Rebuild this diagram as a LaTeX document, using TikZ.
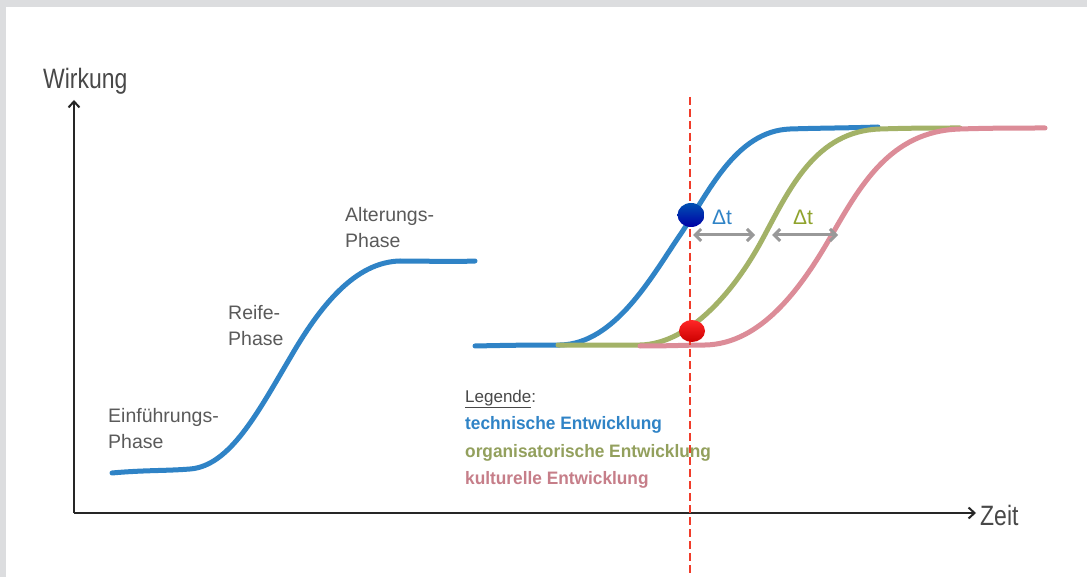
\documentclass[tikz,border=0pt]{standalone}
\usepackage{fontspec}
\setmainfont{Liberation Sans}
\newfontfamily\narrowfont[FakeStretch=0.82]{Liberation Sans}
\newfontfamily\legendfont[FakeStretch=0.96]{Liberation Sans}
\usetikzlibrary{arrows.meta}

\definecolor{frame}{HTML}{DCDDDF}
\definecolor{techblue}{HTML}{2F83C6}
\definecolor{orggreen}{HTML}{A3B267}
\definecolor{kultpink}{HTML}{DC8C98}
\definecolor{txtgray}{HTML}{5A5A5A}
\definecolor{dtgreen}{HTML}{8FA32C}
\definecolor{nowred}{HTML}{F03C2A}

\tikzset{
  axis/.style={line width=2pt, black!85, -{Straight Barb[length=6pt,width=11pt]}},
  curve/.style={line width=5pt, line cap=round},
  phase/.style={anchor=base west, inner sep=0pt, txtgray, font=\fontsize{19.5}{26}\selectfont, align=left},
  legend/.style={anchor=base west, inner sep=0pt, font=\legendfont\fontsize{18}{20}\selectfont\bfseries},
  delta/.style={line width=3pt, black!40, {Straight Barb[length=6pt,width=12pt]}-{Straight Barb[length=6pt,width=12pt]}}
}

\begin{document}
\begin{tikzpicture}[x=1pt, y=-1pt]
	%%%%% FRAME %%%%%
	\useasboundingbox (0,0) rectangle (1087,577);
	\fill[white] (0,0) rectangle (1087,577);
	\fill[frame] (0,0) rectangle (1087,7);
	\fill[frame] (0,0) rectangle (6,577);
	
	%%%%% AXES %%%%%
	\coordinate (origin) at (74,513);
	\coordinate (ytip) at (74,100);
	\coordinate (xtip) at (976,513);
	\draw[axis] (origin) -- (ytip);
	\draw[axis] (origin) -- (xtip);
	\node[anchor=base west, inner sep=0pt, txtgray!80!black, font=\narrowfont\fontsize{28}{30}\selectfont] (wirkung) at (43,89) {Wirkung};
	\node[anchor=base west, inner sep=0pt, txtgray!80!black, font=\narrowfont\fontsize{28}{30}\selectfont] (zeit) at (980,525) {Zeit};
	
	%%%%% LIFE CYCLE %%%%%
	\draw[curve, techblue] (112,473) .. controls (145,470) and (165,471) .. (190,469)
		.. controls (230,466) and (258,412) .. (290,358)
		.. controls (320,306) and (355,262) .. (400,261)
		.. controls (430,261) and (450,262) .. (475,261);
	% base of the last line
	\node[phase] (einf) at (108,448) {Einführungs-\\Phase};
	\node[phase] (reife) at (228,345) {Reife-\\Phase};
	\node[phase] (alter) at (345,248) {Alterungs-\\Phase};
	
	%%%%% THREE CURVES %%%%%
	\draw[curve, techblue] (475,346) .. controls (520,345) and (540,345) .. (560,345)
		.. controls (615,344) and (652,276) .. (680,235)
		.. controls (708,194) and (735,131) .. (790,129)
		.. controls (820,128) and (850,128) .. (878,127);
	\draw[curve, orggreen] (558,345) .. controls (590,345) and (615,345) .. (640,345)
		.. controls (690,344) and (735,290) .. (762,240)
		.. controls (789,190) and (815,131) .. (880,129)
		.. controls (910,128) and (935,128) .. (960,128);
	\draw[curve, kultpink] (640,346) .. controls (670,346) and (690,345) .. (705,345)
		.. controls (760,344) and (800,290) .. (830,238)
		.. controls (860,186) and (890,131) .. (960,129)
		.. controls (990,128) and (1020,128) .. (1045,128);
	
	%%%%% NOW %%%%%
	\coordinate (nowtop) at (690,97);
	\coordinate (nowbot) at (690,577);
	\draw[nowred, line width=2.5pt, dash pattern=on 8pt off 4pt] (nowtop) -- (nowbot);
	\shade[top color=blue!55!cyan!70!black, bottom color=blue!65!black] (691,215) ellipse (13.5 and 12);
	\shade[top color=red!85!white, bottom color=red!80!black] (692,331) ellipse (13 and 11);
	
	%%%%% DELTA T %%%%%
	\coordinate (d1a) at (693,235);
	\coordinate (d1b) at (755,235);
	\coordinate (d2a) at (772,235);
	\coordinate (d2b) at (838,235);
	\draw[delta] (d1a) -- (d1b);
	\draw[delta] (d2a) -- (d2b);
	\node[techblue, font=\fontsize{21}{22}\selectfont] (dt1) at (722,217) {Δt};
	\node[dtgreen, font=\fontsize{21}{22}\selectfont] (dt2) at (803,217) {Δt};
	
	%%%%% LEGEND %%%%%
	\node[anchor=base west, inner sep=0pt, txtgray!80!black, font=\fontsize{17}{20}\selectfont] (leg) at (465,402) {\underline{Legende}:};
	\node[legend, techblue] (legtech) at (465,429) {technische Entwicklung};
	\node[legend, orggreen!90!black] (legorg) at (465,457) {organisatorische Entwicklung};
	\node[legend, kultpink!90!black] (legkult) at (465,484) {kulturelle Entwicklung};
\end{tikzpicture}
\end{document}
